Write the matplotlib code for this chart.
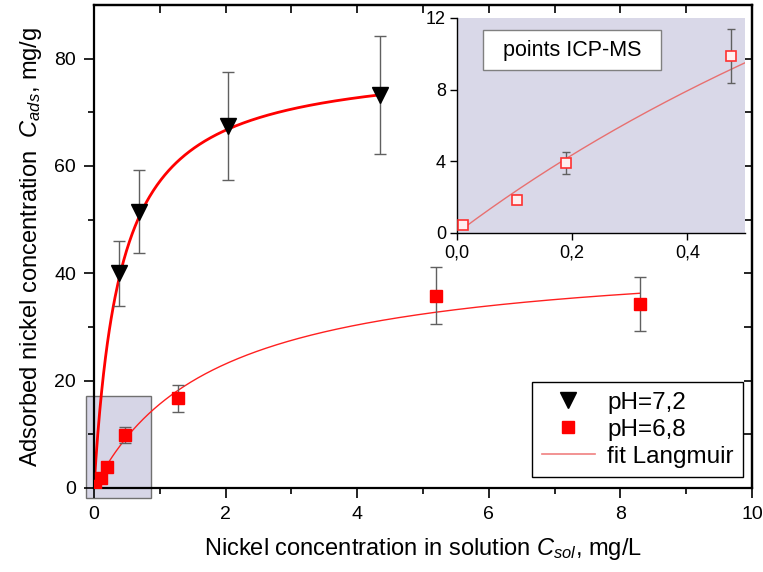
import numpy as np
import matplotlib
matplotlib.use("Agg")
import matplotlib.pyplot as plt
from matplotlib.patches import Rectangle
from matplotlib.ticker import MultipleLocator, FixedLocator, FuncFormatter

plt.rcParams["font.family"] = ["Liberation Sans", "DejaVu Sans"]
plt.rcParams["mathtext.fontset"] = "custom"
plt.rcParams["mathtext.rm"] = "Liberation Sans"
plt.rcParams["mathtext.it"] = "Liberation Sans:italic"

# pH = 7,2 (black triangles)
x_72 = [0.38, 0.69, 2.03, 4.35]
y_72 = [40.0, 51.5, 67.5, 73.3]
err_72 = [6.0, 7.7, 10.1, 11.0]

# pH = 6,8 (red squares)
x_68 = [0.01, 0.105, 0.19, 0.475, 1.28, 5.2, 8.3]
y_68 = [0.45, 1.85, 3.9, 9.9, 16.7, 35.8, 34.3]
err_68 = [0.15, 0.25, 0.6, 1.5, 2.5, 5.3, 5.1]

# Langmuir fit parameters (qmax, K)
fit_72 = (80.0, 2.5)
fit_68 = (44.3, 0.546)


def langmuir(c, qmax, k):
    return qmax * k * c / (1 + k * c)


def comma(v, pos):
    return f"{v:.1f}".replace(".", ",")


fig = plt.figure(figsize=(7.63, 5.72), dpi=100)
ax = fig.add_axes([94 / 763, 1 - 488 / 572, (752 - 94) / 763, (488 - 5) / 572])

# shaded zoom region
ax.add_patch(Rectangle((-0.12, -1.8), 0.99, 19.0, facecolor="#d6d5e6", edgecolor="#707070",
                       linewidth=1.0, zorder=0.5, clip_on=False))

c1 = np.linspace(0, x_72[-1], 300)
ax.plot(c1, langmuir(c1, *fit_72), color="#ff0000", lw=2.0, zorder=2)
c2 = np.linspace(0, x_68[-1], 300)
ax.plot(c2, langmuir(c2, *fit_68), color="#ff2020", lw=1.0, zorder=2)

ax.errorbar(x_72, y_72, yerr=err_72, fmt="none", ecolor="#606060", elinewidth=1.0,
            capsize=4, capthick=1.0, zorder=2.5)
ax.errorbar(x_68, y_68, yerr=err_68, fmt="none", ecolor="#606060", elinewidth=1.0,
            capsize=4, capthick=1.0, zorder=2.5)
ax.plot(x_72, y_72, "v", color="black", ms=11, ls="none", zorder=3)
ax.plot(x_68, y_68, "s", color="#ff0000", ms=9, ls="none", zorder=3)

ax.set_xlim(0, 10)
ax.set_ylim(0, 90)
ax.xaxis.set_major_locator(MultipleLocator(2))
ax.xaxis.set_minor_locator(MultipleLocator(1))
ax.yaxis.set_major_locator(FixedLocator([0, 20, 40, 60, 80]))
ax.yaxis.set_minor_locator(FixedLocator([10, 30, 50, 70]))
ax.tick_params(which="major", direction="out", length=7, width=1.2, labelsize=14, pad=6)
ax.tick_params(which="minor", direction="out", length=4, width=1.2)
for sp in ax.spines.values():
    sp.set_linewidth(1.6)

top = ax.secondary_xaxis("top")
top.xaxis.set_major_locator(MultipleLocator(1))
top.tick_params(direction="in", length=6, width=1.2, labeltop=False)
right = ax.secondary_yaxis("right")
right.yaxis.set_major_locator(MultipleLocator(10))
right.tick_params(direction="in", length=6, width=1.2, labelright=False)
top.spines["top"].set_linewidth(1.6)
right.spines["right"].set_linewidth(1.6)

ax.set_xlabel(r"Nickel concentration in solution $C_{sol}$, mg/L", fontsize=17, labelpad=9)
ax.set_ylabel(r"Adsorbed nickel concentration  $C_{ads}$, mg/g", fontsize=17, labelpad=7)

h1, = ax.plot([], [], "v", color="black", ms=11, ls="none")
h2, = ax.plot([], [], "s", color="#ff0000", ms=8.5, ls="none")
h3, = ax.plot([], [], color="#f08080", lw=1.2)
leg = ax.legend([h1, h2, h3], ["pH=7,2", "pH=6,8", "fit Langmuir"], loc="lower right",
                bbox_to_anchor=(0.987, 0.022), borderaxespad=0, fontsize=17.5, fancybox=False,
                framealpha=1, edgecolor="black", handlelength=2.2, labelspacing=0.2,
                borderpad=0.4, handletextpad=0.5)
leg.get_frame().set_linewidth(1.0)

# inset
ins = fig.add_axes([457 / 763, 1 - 233 / 572, (745 - 457) / 763, (233 - 18) / 572])
ins.set_facecolor("#d9d8e8")
ci = np.linspace(x_68[0], 0.5, 200)
ins.plot(ci, langmuir(ci, *fit_68), color="#e87070", lw=1.0, zorder=2)
ins.errorbar(x_68[:4], y_68[:4], yerr=err_68[:4], fmt="none", ecolor="#606060",
             elinewidth=1.0, capsize=3, capthick=1.0, zorder=2.5)
ins.plot(x_68[:4], y_68[:4], "s", mfc="#fff0f0", mec="#ff3030", mew=1.2, ms=7,
         ls="none", zorder=3)
ins.set_xlim(0, 0.5)
ins.set_ylim(0, 12)
ins.xaxis.set_major_locator(MultipleLocator(0.2))
ins.xaxis.set_major_formatter(FuncFormatter(comma))
ins.yaxis.set_major_locator(MultipleLocator(4))
ins.tick_params(direction="out", length=5, width=1.0, labelsize=13, pad=3)
ins.spines["top"].set_visible(False)
ins.spines["right"].set_visible(False)
ins.spines["left"].set_linewidth(1.0)
ins.spines["bottom"].set_linewidth(1.0)
ins.add_patch(Rectangle((0.09, 0.758), 0.618, 0.186, transform=ins.transAxes,
                        facecolor="white", edgecolor="#808080", lw=1.0, zorder=4))
ins.text(0.399, 0.851, "points ICP-MS", transform=ins.transAxes, fontsize=15.5,
         ha="center", va="center", zorder=5)

fig.savefig("out.png", dpi=100)
